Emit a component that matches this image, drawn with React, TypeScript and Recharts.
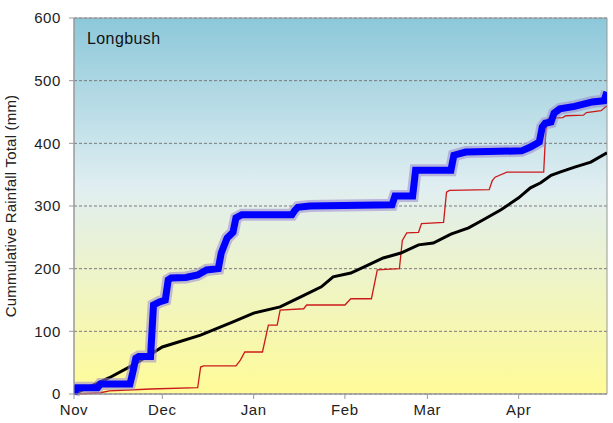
import React from 'react';
import { LineChart, Line, XAxis, YAxis, CartesianGrid, ReferenceArea } from 'recharts';

// days since 1 Nov, cumulative rainfall (mm)
const monthTicks = [0, 30, 61, 92, 120, 151];
const monthNames = ['Nov', 'Dec', 'Jan', 'Feb', 'Mar', 'Apr'];
const yTicks = [0, 100, 200, 300, 400, 500, 600];

// this season
const seasonDays = [0, 1, 8, 9, 19, 20, 21, 22, 26, 27, 29, 31, 32, 33, 38, 42, 45, 49, 50, 52, 54, 55, 57, 74, 75, 76, 80, 108, 109, 115, 116, 128, 129, 133, 152, 155, 158, 159, 160, 162, 163, 165, 170, 176, 180, 181];
const seasonRain = [0, 10, 10, 16, 16, 35, 57, 60, 60, 142, 147, 150, 182, 185, 186, 190, 198, 200, 225, 249, 258, 281, 286, 286, 293, 298, 300, 302, 316, 316, 357, 357, 381, 386, 388, 394, 402, 426, 432, 434, 448, 455, 459, 466, 468, 482];

// last season
const lastDays = [0, 9, 12, 26, 42, 43, 44, 55, 56.5, 58, 64, 66, 69, 70, 78, 79, 92, 94, 101, 103, 110.5, 111.5, 113, 117, 118, 125.5, 126.5, 127.5, 141, 142, 143, 147, 159.5, 160.2, 161, 166, 167, 173, 174, 179, 181];
const lastRain = [0, 2, 5, 8, 10, 43, 45, 45, 54, 67, 67, 110, 110, 134, 136, 142, 142, 152, 152, 198, 200, 245, 257, 258, 272, 274, 322, 325, 326, 340, 346, 354, 354, 420, 440, 441, 444, 445, 449, 452, 460];

// long-term average
const avgDays = [0, 6.5, 12, 20, 30, 43, 54, 61, 70, 77, 84, 88, 94, 100, 105, 111, 117, 122, 128, 134, 139, 145, 151, 155, 158.5, 162, 165, 170, 175.5, 181];
const avgRain = [0, 14, 26, 46, 75, 94, 115, 129, 139, 155, 171, 187, 193, 206, 217, 225, 238, 241, 255, 265, 278, 294, 313, 329, 337, 349, 354, 362, 370, 385];

const toRows = (days: number[], vals: number[]) => days.map((d, i) => ({ day: d, mm: vals[i] }));

const seasonData = toRows(seasonDays, seasonRain);
const lastData = toRows(lastDays, lastRain);
const avgData = toRows(avgDays, avgRain);

const font = '"Liberation Sans", Arial, sans-serif';
const tickStyle = { fill: '#222', fontSize: 15, fontFamily: font, letterSpacing: 0.6 };

export default function App() {
  return (
    <div style={{ position: 'absolute', left: 0, top: 0, width: 613, height: 423, background: '#fff', fontFamily: font }}>
      <LineChart width={613} height={423} margin={{ top: 18, right: 6, left: 0, bottom: 0 }}>
        <defs>
          <linearGradient id="bg" x1="0" y1="0" x2="0" y2="1">
            <stop offset="0%" stopColor="#8cc8da" />
            <stop offset="45%" stopColor="#e0eef1" />
            <stop offset="70%" stopColor="#eef4c6" />
            <stop offset="100%" stopColor="#fffb98" />
          </linearGradient>
        </defs>
        <CartesianGrid vertical={false} fill="url(#bg)" fillOpacity={1} stroke="#7a7a7a" strokeDasharray="3 2" />
        <XAxis
          type="number"
          dataKey="day"
          domain={[0, 181]}
          ticks={monthTicks}
          tickFormatter={(v: number) => monthNames[monthTicks.indexOf(v)]}
          height={29}
          allowDataOverflow
          stroke="#999"
          tickSize={5}
          tickMargin={5}
          tick={tickStyle}
        />
        <YAxis
          type="number"
          domain={[0, 600]}
          ticks={yTicks}
          width={74}
          stroke="#999"
          tickSize={5}
          tickMargin={8}
          tick={tickStyle}
          label={{
            value: 'Cummulative Rainfall Total (mm)',
            angle: -90,
            position: 'insideLeft',
            offset: 11,
            style: { textAnchor: 'middle', fill: '#222', fontSize: 15, fontFamily: font, letterSpacing: 0.2 },
          }}
        />
        <ReferenceArea x1={0} x2={181} y1={0} y2={600} fill="none" stroke="#999" strokeWidth={1} ifOverflow="visible" />
        <Line data={lastData} dataKey="mm" type="linear" stroke="#cc1a1a" strokeWidth={1.3} dot={false} isAnimationActive={false} />
        <Line data={avgData} dataKey="mm" type="linear" stroke="#000" strokeWidth={3} dot={false} isAnimationActive={false} />
        <Line data={seasonData} dataKey="mm" type="linear" stroke="#9a88d0" strokeOpacity={0.55} strokeWidth={12} dot={false} isAnimationActive={false} />
        <Line data={seasonData} dataKey="mm" type="linear" stroke="#0000ff" strokeWidth={7} dot={false} isAnimationActive={false} />
      </LineChart>
      <div style={{ position: 'absolute', left: 87, top: 30, fontSize: 16, letterSpacing: 0.4, color: '#111', fontFamily: font }}>Longbush</div>
    </div>
  );
}
